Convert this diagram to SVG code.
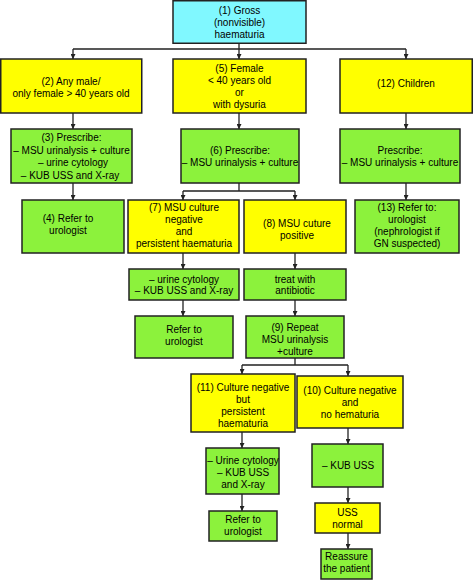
<svg xmlns="http://www.w3.org/2000/svg" width="473" height="580" viewBox="0 0 473 580">
<defs>
<marker id="ah" viewBox="0 0 8 8" refX="8" refY="4" markerWidth="5" markerHeight="5" orient="auto" markerUnits="userSpaceOnUse">
<path d="M0,0 L8,4 L0,8 Z" fill="#222"/>
</marker>
<style>
.b{stroke:#222;stroke-width:1.5}
.c{fill:#80f8ff}
.y{fill:#ffff00}
.g{fill:#8cf23c}
text{font-family:"Liberation Sans",Arial,sans-serif;font-size:10px;fill:#000;text-anchor:middle}
.l{fill:none;stroke:#222;stroke-width:1.3}
.a{fill:none;stroke:#222;stroke-width:1.3;marker-end:url(#ah)}
</style>
</defs>
<rect width="473" height="580" fill="#fff"/>
<g id="connectors">
<path class="l" d="M239,43 V49 M73,49 H406"/>
<path class="a" d="M73,49 V59"/>
<path class="a" d="M239,49 V59"/>
<path class="a" d="M406,49 V59"/>
<path class="a" d="M73,113 V129"/>
<path class="a" d="M239,113 V129"/>
<path class="a" d="M406,113 V129"/>
<path class="a" d="M73,183 V200"/>
<path class="l" d="M239,183 V191 M183,191 H295"/>
<path class="a" d="M183,191 V200"/>
<path class="a" d="M295,191 V200"/>
<path class="a" d="M406,183 V200"/>
<path class="a" d="M183,253 V269"/>
<path class="a" d="M295,253 V269"/>
<path class="a" d="M183,300 V316"/>
<path class="a" d="M295,300 V316"/>
<path class="l" d="M295,358 V365 M242,365 H348"/>
<path class="a" d="M242,365 V374"/>
<path class="a" d="M348,365 V376"/>
<path class="a" d="M242,432 V448"/>
<path class="a" d="M242,494 V511"/>
<path class="a" d="M348,428 V444"/>
<path class="a" d="M348,487 V503"/>
<path class="a" d="M348,533 V549"/>
</g>
<g id="n1"><rect class="b c" x="173" y="0.75" width="133" height="42.5"/><text x="239.5" y="14">(1) Gross</text><text x="239.5" y="26">(nonvisible)</text><text x="239.5" y="38">haematuria</text></g>
<g id="n2"><rect class="b y" x="0.75" y="59" width="141" height="54"/><text x="71" y="85">(2) Any male/</text><text x="71" y="97">only female &gt; 40 years old</text></g>
<g id="n5"><rect class="b y" x="173" y="59" width="133" height="54"/><text x="239.5" y="72">(5) Female</text><text x="239.5" y="84">&lt; 40 years old</text><text x="239.5" y="96">or</text><text x="239.5" y="108">with dysuria</text></g>
<g id="n12"><rect class="b y" x="340" y="59" width="132.25" height="54"/><text x="406" y="87">(12) Children</text></g>
<g id="n3"><rect class="b g" x="11" y="129" width="121" height="54"/><text x="71.5" y="141">(3) Prescribe:</text><text x="71.5" y="154">– MSU urinalysis + culture</text><text x="73" y="166">– urine cytology</text><text x="70" y="179">–  KUB USS and X-ray</text></g>
<g id="n6"><rect class="b g" x="181" y="129" width="118" height="54"/><text x="240" y="154">(6) Prescribe:</text><text x="240" y="166">– MSU urinalysis + culture</text></g>
<g id="n12b"><rect class="b g" x="340" y="129" width="120" height="54"/><text x="400" y="154">Prescribe:</text><text x="400" y="166">– MSU urinalysis + culture</text></g>
<g id="n4"><rect class="b g" x="22" y="200" width="102" height="53"/><text x="68" y="222">(4) Refer to</text><text x="68" y="234">urologist</text></g>
<g id="n7"><rect class="b y" x="128" y="200" width="111" height="53"/><text x="184" y="211">(7) MSU culture</text><text x="184" y="223">negative</text><text x="184" y="235">and</text><text x="184" y="247">persistent haematuria</text></g>
<g id="n8"><rect class="b y" x="244" y="200" width="102" height="53"/><text x="297" y="227">(8) MSU cuture</text><text x="297" y="239">positive</text></g>
<g id="n13"><rect class="b g" x="355" y="200" width="104" height="53"/><text x="407" y="211">(13) Refer to:</text><text x="407" y="223">urologist</text><text x="407" y="235">(nephrologist if</text><text x="407" y="247">GN suspected)</text></g>
<g id="n7b"><rect class="b g" x="129" y="269" width="110" height="31"/><text x="184" y="282.5">– urine cytology</text><text x="184" y="294">–  KUB USS and X-ray</text></g>
<g id="n8b"><rect class="b g" x="244" y="269" width="102" height="31"/><text x="295" y="282.5">treat with</text><text x="295" y="294">antibiotic</text></g>
<g id="n7c"><rect class="b g" x="135" y="316" width="98" height="42"/><text x="184" y="332.5">Refer to</text><text x="184" y="344.5">urologist</text></g>
<g id="n9"><rect class="b g" x="246" y="316" width="98" height="42"/><text x="295" y="330.5">(9) Repeat</text><text x="295" y="342.5">MSU urinalysis</text><text x="295" y="354.5">+culture</text></g>
<g id="n11"><rect class="b y" x="191" y="374" width="104" height="58"/><text x="243" y="391">(11) Culture negative</text><text x="243" y="403">but</text><text x="243" y="414.5">persistent</text><text x="243" y="426.5">haematuria</text></g>
<g id="n10"><rect class="b y" x="297" y="376" width="106" height="52"/><text x="350" y="394">(10) Culture negative</text><text x="350" y="406">and</text><text x="350" y="418">no hematuria</text></g>
<g id="n11b"><rect class="b g" x="206" y="448" width="73" height="46"/><text x="243" y="464">– Urine cytology</text><text x="243" y="475.5">– KUB USS</text><text x="243" y="487.5">and X-ray</text></g>
<g id="n10b"><rect class="b g" x="312" y="444" width="71" height="43"/><text x="348" y="469">– KUB USS</text></g>
<g id="n11c"><rect class="b g" x="209" y="511" width="68" height="30"/><text x="243" y="523">Refer to</text><text x="243" y="534.5">urologist</text></g>
<g id="n10c"><rect class="b y" x="315" y="503" width="65" height="30"/><text x="347.5" y="515.5">USS</text><text x="347.5" y="528">normal</text></g>
<g id="n10d"><rect class="b g" x="321" y="549" width="51" height="30"/><text x="346.5" y="560">Reassure</text><text x="346.5" y="572">the patient</text></g>
</svg>
